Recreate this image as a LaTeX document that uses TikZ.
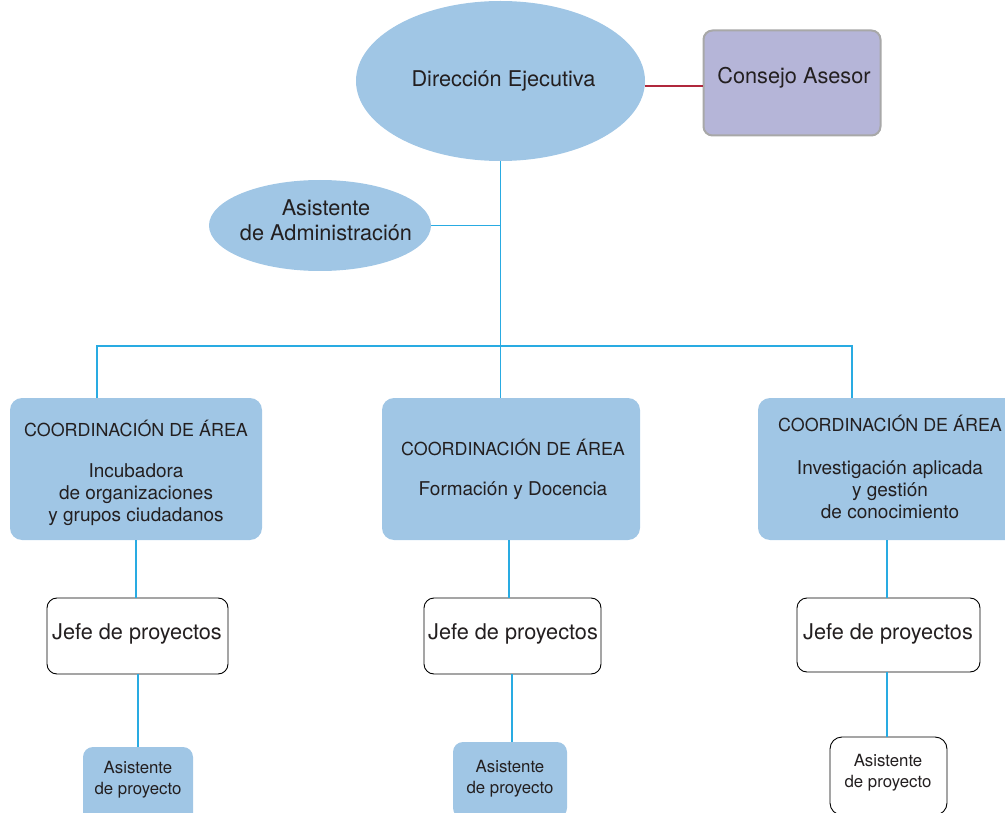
\documentclass[tikz,border=0pt]{standalone}
\usepackage{fontspec}
\setmainfont{TeX Gyre Heros}
\usetikzlibrary{shapes.geometric}
\definecolor{boxblue}{HTML}{A0C6E5}
\definecolor{linkblue}{HTML}{29ABE2}
\definecolor{lav}{HTML}{B5B5D8}
\definecolor{lavedge}{HTML}{A8A8A8}
\definecolor{txt}{HTML}{231F20}
\definecolor{redline}{HTML}{B0283C}
\begin{document}
\begin{tikzpicture}[x=1pt,y=-1pt,
  oval/.style={ellipse, fill=boxblue, draw=none, inner sep=0pt},
  coordbox/.style={rectangle, rounded corners=12pt, fill=boxblue, draw=none, inner sep=0pt},
  jefebox/.style={rectangle, rounded corners=10pt, fill=white, draw=black, line width=0.9pt, inner sep=0pt},
  asisblue/.style={rectangle, rounded corners=10pt, fill=boxblue, draw=none, inner sep=0pt},
  asiswhite/.style={rectangle, rounded corners=12pt, fill=white, draw=black, line width=0.9pt, inner sep=0pt},
  consbox/.style={rectangle, rounded corners=9pt, fill=lav, draw=lavedge, line width=2pt, inner sep=0pt},
  link/.style={draw=linkblue, line width=1.3pt},
  bigtxt/.style={text=txt, font=\fontsize{21.7}{25}\selectfont, align=center, inner sep=0pt},
  captxt/.style={text=txt, font=\fontsize{17.9}{20}\selectfont, align=center, inner sep=0pt},
  bodytxt/.style={text=txt, font=\fontsize{19}{22}\selectfont, align=center, inner sep=0pt},
  smalltxt/.style={text=txt, font=\fontsize{16.8}{21}\selectfont, align=center, inner sep=0pt}
]
\useasboundingbox (0,0) rectangle (1005,813);
\clip (0,0) rectangle (1005,813);

% shapes
\node[oval, minimum width=289pt, minimum height=160pt] (dir) at (500.5,81) {};
\node[consbox, minimum width=177pt, minimum height=105pt] (cons) at (792,83) {};
\node[oval, minimum width=222pt, minimum height=91pt] (admin) at (320,225.5) {};
\node[coordbox, minimum width=252pt, minimum height=142pt] (coordL) at (136,469) {};
\node[coordbox, minimum width=258pt, minimum height=142pt] (coordM) at (511,469) {};
\node[coordbox, minimum width=262pt, minimum height=142pt] (coordR) at (889,469) {};
\node[jefebox, minimum width=181pt, minimum height=76pt] (jefeL) at (137.5,636) {};
\node[jefebox, minimum width=177pt, minimum height=76pt] (jefeM) at (512.5,636) {};
\node[jefebox, minimum width=183pt, minimum height=74pt] (jefeR) at (888.5,635) {};
\node[asisblue, minimum width=110pt, minimum height=76pt] (asisL) at (138,785) {};
\node[asisblue, minimum width=114pt, minimum height=76pt] (asisM) at (510,780) {};
\node[asiswhite, minimum width=117pt, minimum height=78pt] (asisR) at (888.5,776) {};

% connectors
\draw[redline, line width=1.1pt] (cons.west |- 0,86) -- (dir.east |- 0,86);
\coordinate (busC) at (500.5,346);
\coordinate (busL) at (97,346);
\coordinate (busR) at (852,346);
\draw[link] (dir.south) -- (dir.south |- coordM.north);
\draw[link] (admin.east) -- (admin.east -| dir.south);
\draw[link] (busL |- coordL.north) -- (busL) -- (busR) -- (busR |- coordR.north);
\draw[link] (jefeL.north -| 136,0) -- (coordL.south -| 136,0);
\draw[link] (jefeM.north -| 509,0) -- (coordM.south -| 509,0);
\draw[link] (jefeR.north -| 887,0) -- (coordR.south -| 887,0);
\draw[link] (asisL.north) -- (asisL.north |- jefeL.south);
\draw[link] (asisM.north -| 512,0) -- (jefeM.south -| 512,0);
\draw[link] (asisR.north -| 887,0) -- (jefeR.south -| 887,0);

% texts
\node[bigtxt] (tdir) at (503.5,80.5) {Dirección Ejecutiva};
\node[bigtxt] (tcons) at (794,77.5) {Consejo Asesor};
\node[bigtxt] (tadmin) at (326,220) {Asistente\\de Administración};
\node[captxt] (tcl) at (136,428.5) {COORDINACIÓN DE ÁREA};
\node[bodytxt] (tbl) at (136,494.5) {Incubadora\\de organizaciones\\y grupos ciudadanos};
\node[captxt] (tcm) at (513,447.5) {COORDINACIÓN DE ÁREA};
\node[bodytxt] (tbm) at (513,490.5) {Formación y Docencia};
\node[captxt] (tcr) at (890,423.5) {COORDINACIÓN DE ÁREA};
\node[bodytxt] (tbr) at (890,489.5) {Investigación aplicada\\y gestión\\de conocimiento};
\node[bigtxt] (tjl) at (137,633.5) {Jefe de proyectos};
\node[bigtxt] (tjm) at (513,633.5) {Jefe de proyectos};
\node[bigtxt] (tjr) at (888,633.5) {Jefe de proyectos};
\node[smalltxt] (tal) at (138,779.5) {Asistente\\de proyecto};
\node[smalltxt] (tam) at (510,778.5) {Asistente\\de proyecto};
\node[smalltxt] (tar) at (888,772.5) {Asistente\\de proyecto};
\end{tikzpicture}
\end{document}
